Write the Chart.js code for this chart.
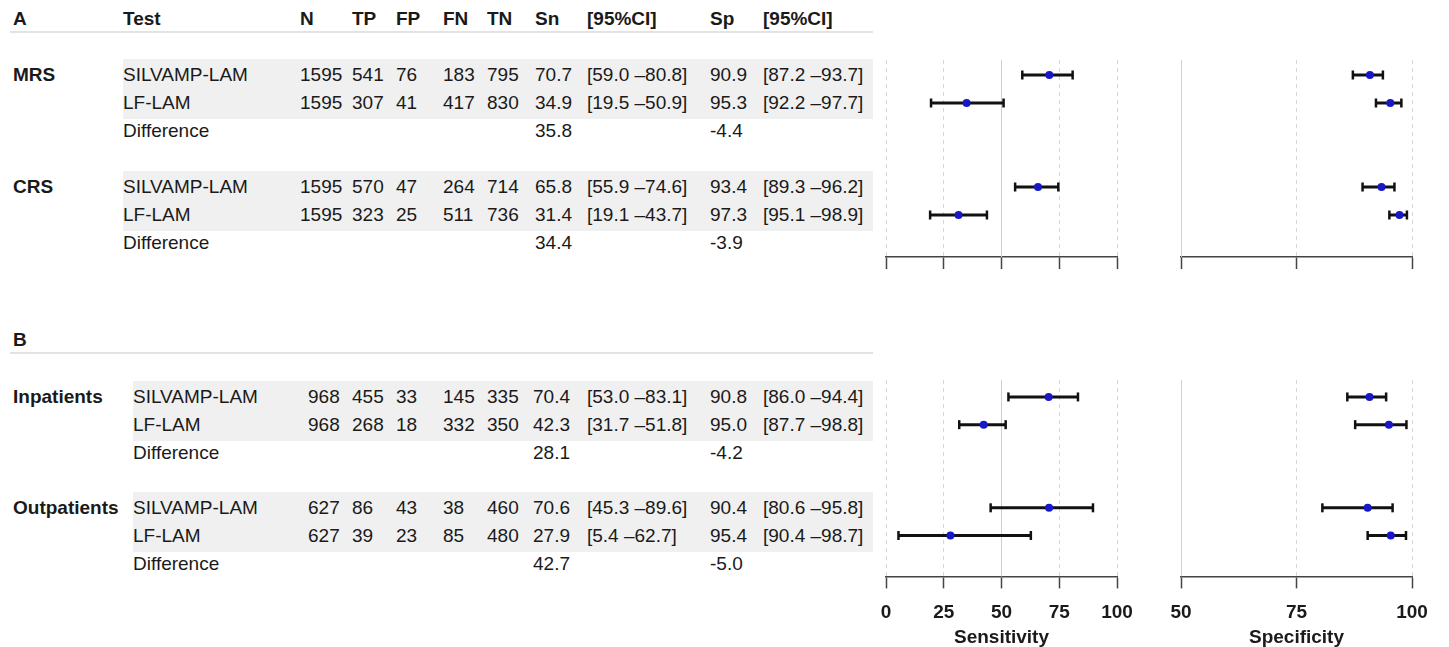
<!DOCTYPE html>
<html lang="en">
<head>
  <meta charset="UTF-8" />
  <title>SILVAMP-LAM vs LF-LAM</title>
  <script src="https://cdn.jsdelivr.net/npm/chart.js"></script>
  <style>
    body {
      margin: 0;
      width: 1449px;
      height: 647px;
      overflow: hidden;
      background: #fff;
      color: #1a1a1a;
      font-family: 'Liberation Sans', Arial, Helvetica, sans-serif;
      position: relative;
    }
    .cell {
      position: absolute;
      font-size: 19px;
      line-height: 24px;
      height: 24px;
      white-space: pre;
    }
    .bold { font-weight: bold; }
    .band { position: absolute; background: #f0f0f0; }
    .rule { position: absolute; height: 2px; background: #e3e3e3; }
    canvas { position: absolute; }
  </style>
</head>
<body>
  <script>
    // table data, one entry per test row (SILVAMP-LAM, LF-LAM per group)
    const groups = ['MRS', 'CRS', 'Inpatients', 'Outpatients'];
    const tests = ['SILVAMP-LAM', 'LF-LAM'];
    const headers = ['Test', 'N', 'TP', 'FP', 'FN', 'TN', 'Sn', '[95%CI]', 'Sp', '[95%CI]'];
    const N  = [1595, 1595, 1595, 1595, 968, 968, 627, 627];
    const TP = [541, 307, 570, 323, 455, 268, 86, 39];
    const FP = [76, 41, 47, 25, 33, 18, 43, 23];
    const FN = [183, 417, 264, 511, 145, 332, 38, 85];
    const TN = [795, 830, 714, 736, 335, 350, 460, 480];
    const sens   = [70.7, 34.9, 65.8, 31.4, 70.4, 42.3, 70.6, 27.9];
    const sensLo = [59.0, 19.5, 55.9, 19.1, 53.0, 31.7, 45.3, 5.4];
    const sensHi = [80.8, 50.9, 74.6, 43.7, 83.1, 51.8, 89.6, 62.7];
    const spec   = [90.9, 95.3, 93.4, 97.3, 90.8, 95.0, 90.4, 95.4];
    const specLo = [87.2, 92.2, 89.3, 95.1, 86.0, 87.7, 80.6, 90.4];
    const specHi = [93.7, 97.7, 96.2, 98.9, 94.4, 98.8, 95.8, 98.7];
    const sensDiff = [35.8, 34.4, 28.1, 42.7];
    const specDiff = [-4.4, -3.9, -4.2, -5.0];
    const sensTicks = [0, 25, 50, 75, 100];
    const specTicks = [50, 75, 100];

    // layout of the two panels
    const panels = [
      { label: 'A', groups: [0, 1], headY: 19, ruleY: 31, row0: 75, step: 28,
        plotTop: 60, axisY: 257, bandX: 123, showHeaders: true, showAxis: false,
        cols: [13, 123, 300, 352, 396, 443, 487, 535, 587, 710, 763] },
      { label: 'B', groups: [2, 3], headY: 340, ruleY: 352, row0: 397, step: 27.8,
        plotTop: 380, axisY: 577, bandX: 133, showHeaders: false, showAxis: true,
        cols: [13, 133, 308, 352, 396, 443, 487, 533, 587, 710, 763] }
    ];
    const sensArea = [886, 1117];
    const specArea = [1181, 1412];

    function cell(text, x, y, bold) {
      const d = document.createElement('div');
      d.className = 'cell' + (bold ? ' bold' : '');
      d.textContent = text;
      d.style.left = x + 'px';
      d.style.top = (y - 12) + 'px';
      document.body.appendChild(d);
    }

    const fmt = v => v.toFixed(1);
    const ci = (lo, hi) => '[' + fmt(lo) + ' \u2013' + fmt(hi) + ']';

    function drawTable(p) {
      const c = p.cols;
      // bands first so text sits on top
      p.groups.forEach((g, k) => {
        const mid = p.row0 + p.step * (4 * k + 0.5);
        const b = document.createElement('div');
        b.className = 'band';
        b.style.left = p.bandX + 'px';
        b.style.width = (873 - p.bandX) + 'px';
        b.style.top = (mid - 30) + 'px';
        b.style.height = '60px';
        document.body.appendChild(b);
      });
      const r = document.createElement('div');
      r.className = 'rule';
      r.style.left = '10px';
      r.style.width = '863px';
      r.style.top = p.ruleY + 'px';
      document.body.appendChild(r);

      cell(p.label, c[0], p.headY, true);
      if (p.showHeaders) headers.forEach((h, j) => cell(h, c[j + 1], p.headY, true));

      p.groups.forEach((g, k) => {
        const y0 = p.row0 + p.step * 4 * k;
        cell(groups[g], c[0], y0, true);
        tests.forEach((t, j) => {
          const i = g * 2 + j;
          const y = y0 + p.step * j;
          const vals = [t, N[i], TP[i], FP[i], FN[i], TN[i], fmt(sens[i]), ci(sensLo[i], sensHi[i]),
                        fmt(spec[i]), ci(specLo[i], specHi[i])];
          vals.forEach((v, m) => cell(String(v), c[m + 1], y, false));
        });
        const yd = y0 + p.step * 2;
        cell('Difference', c[1], yd, false);
        cell(fmt(sensDiff[g]), c[7], yd, false);
        cell(fmt(specDiff[g]), c[9], yd, false);
      });
    }

    function forest(p, area, est, lo, hi, tickVals, title) {
      const padX = 45, padTop = 10;
      const tickLen = 12;
      // measured height of the x scale (ticks + labels + title)
      const axisH = p.showAxis ? 84.6 : tickLen;
      const canvas = document.createElement('canvas');
      const w = area[1] - area[0] + 2 * padX;
      const h = Math.round(padTop + (p.axisY - p.plotTop) + axisH);
      canvas.width = w;
      canvas.height = h;
      canvas.style.left = (area[0] - padX) + 'px';
      canvas.style.top = (p.plotTop - padTop) + 'px';
      document.body.appendChild(canvas);

      const yMin = (p.plotTop - p.row0) / p.step;
      const yMax = (p.axisY - p.row0) / p.step;
      const xMin = tickVals[0], xMax = tickVals[tickVals.length - 1];

      const datasets = [];
      const points = [];
      p.groups.forEach((g, k) => {
        [0, 1].forEach(j => {
          const i = g * 2 + j;
          const row = 4 * k + j;
          points.push({ x: est[i], y: row });
          datasets.push({
            type: 'scatter', showLine: true, order: 1, clip: false,
            data: [{ x: lo[i], y: row }, { x: hi[i], y: row }],
            borderColor: '#111', borderWidth: 3,
            pointStyle: 'line', pointRotation: 90, pointRadius: 4.5,
            pointBorderColor: '#111', pointBorderWidth: 2.5
          });
        });
      });
      datasets.unshift({
        type: 'scatter', order: 0, clip: false, data: points,
        pointRadius: 4, pointBackgroundColor: '#1818c8', pointBorderWidth: 0
      });
      // solid reference line at 50
      datasets.push({
        type: 'scatter', showLine: true, order: 2,
        data: [{ x: 50, y: yMin }, { x: 50, y: yMax }],
        borderColor: '#cfcfcf', borderWidth: 1, pointRadius: 0
      });

      new Chart(canvas, {
        type: 'scatter',
        data: { datasets },
        options: {
          responsive: false,
          animation: false,
          devicePixelRatio: 1,
          events: [],
          layout: { padding: { left: padX, right: padX, top: padTop, bottom: 0 } },
          plugins: { legend: { display: false }, tooltip: { enabled: false } },
          scales: {
            x: {
              type: 'linear', min: xMin, max: xMax,
              afterBuildTicks: s => { s.ticks = tickVals.map(v => ({ value: v })); },
              grid: { color: '#d6d6d6', lineWidth: 1, tickLength: tickLen, tickColor: '#444',
                      tickWidth: 1.5, tickBorderDash: [] },
              border: { display: true, color: '#444', width: 1.5, dash: [4, 4] },
              ticks: {
                display: p.showAxis, padding: 13, maxRotation: 0, color: '#1a1a1a',
                font: { family: "'Liberation Sans', Arial, sans-serif", size: 19, weight: 'bold', lineHeight: 1.2 }
              },
              title: {
                display: p.showAxis, text: title, color: '#1a1a1a', padding: { top: -11, bottom: 13 },
                font: { family: "'Liberation Sans', Arial, sans-serif", size: 19, weight: 'bold', lineHeight: 1.2 }
              }
            },
            y: { type: 'linear', reverse: true, min: yMin, max: yMax, display: false }
          }
        }
      });
    }

    panels.forEach(p => {
      drawTable(p);
      forest(p, sensArea, sens, sensLo, sensHi, sensTicks, 'Sensitivity');
      forest(p, specArea, spec, specLo, specHi, specTicks, 'Specificity');
    });
  </script>
</body>
</html>
